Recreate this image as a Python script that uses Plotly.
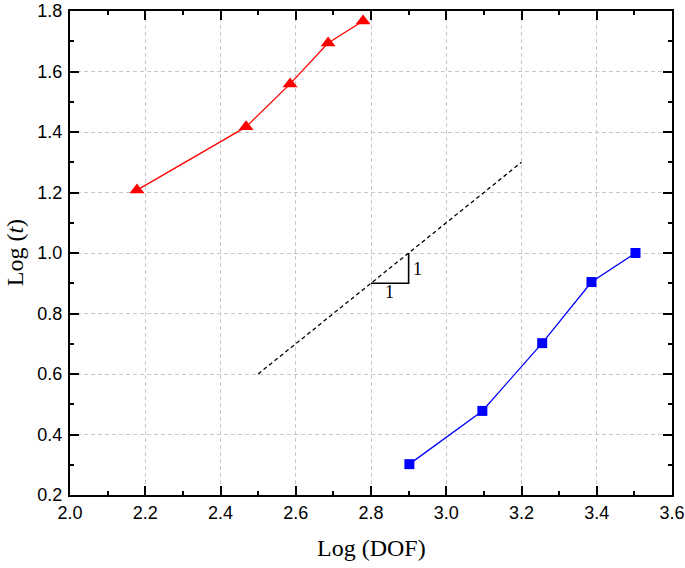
import plotly.graph_objects as go

# red series (triangles)
red_x = [2.178, 2.468, 2.585, 2.686, 2.779]
red_y = [1.208, 1.417, 1.559, 1.694, 1.767]

# blue series (squares)
blue_x = [2.902, 3.096, 3.255, 3.386, 3.503]
blue_y = [0.302, 0.478, 0.702, 0.904, 1.0]

# slope reference line and triangle
ref_x = [2.5, 3.2]
ref_y = [0.6, 1.3]
tri_x = [2.8, 2.9, 2.9]
tri_y = [0.9, 0.9, 1.0]

fig = go.Figure()
fig.add_trace(go.Scatter(x=red_x, y=red_y, mode="lines+markers",
                         line=dict(color="#ff0000", width=1.3),
                         marker=dict(symbol="triangle-up", size=13, color="#ff0000")))
fig.add_trace(go.Scatter(x=blue_x, y=blue_y, mode="lines+markers",
                         line=dict(color="#0000ff", width=1.3),
                         marker=dict(symbol="square", size=10, color="#0000ff")))
fig.add_trace(go.Scatter(x=ref_x, y=ref_y, mode="lines",
                         line=dict(color="black", width=1.3, dash="4px,3px")))
fig.add_trace(go.Scatter(x=tri_x, y=tri_y, mode="lines",
                         line=dict(color="black", width=1.6)))

serif = "Liberation Serif"
fig.add_annotation(x=2.848, y=0.871, text="1", showarrow=False,
                   font=dict(family=serif, size=18, color="black"))
fig.add_annotation(x=2.923, y=0.947, text="1", showarrow=False,
                   font=dict(family=serif, size=18, color="black"))

# axis titles placed as paper annotations
fig.add_annotation(xref="paper", yref="paper", x=0.5, y=-0.11,
                   xanchor="center", yanchor="middle",
                   text="Log (DOF)", showarrow=False,
                   font=dict(family=serif, size=24, color="black"))
fig.add_annotation(xref="paper", yref="paper", x=-0.091, y=0.5,
                   xanchor="center", yanchor="middle", textangle=-90,
                   text="Log (<i>t</i>)", showarrow=False,
                   font=dict(family=serif, size=24, color="black"))

axis_common = dict(
    showline=True, linecolor="black", linewidth=2, mirror="ticks",
    ticks="inside", ticklen=9, tickwidth=1.5, tickcolor="black",
    showgrid=True, gridcolor="#c8c8c8", griddash="4px,3px", gridwidth=1,
    zeroline=False, automargin=False,
    tickfont=dict(family="Liberation Sans", size=18, color="black"),
    minor=dict(ticks="inside", ticklen=4, tickwidth=1.5, tickcolor="black",
               dtick=0.1, showgrid=False),
)

fig.update_xaxes(range=[2.0, 3.6], dtick=0.2, tick0=2.0, tickformat=".1f",
                 **axis_common)
fig.update_yaxes(range=[0.2, 1.8], dtick=0.2, tick0=0.2, tickformat=".1f",
                 ticklabelstandoff=2, **axis_common)

fig.update_layout(width=685, height=568, showlegend=False,
                  plot_bgcolor="white", paper_bgcolor="white",
                  margin=dict(l=70, r=13, t=11, b=73))

# drop the default page margin so the figure sits at the window corner
fig.write_html("out.html", config={"displayModeBar": False},
               post_script="document.body.style.margin='0';document.body.style.overflow='hidden';")
